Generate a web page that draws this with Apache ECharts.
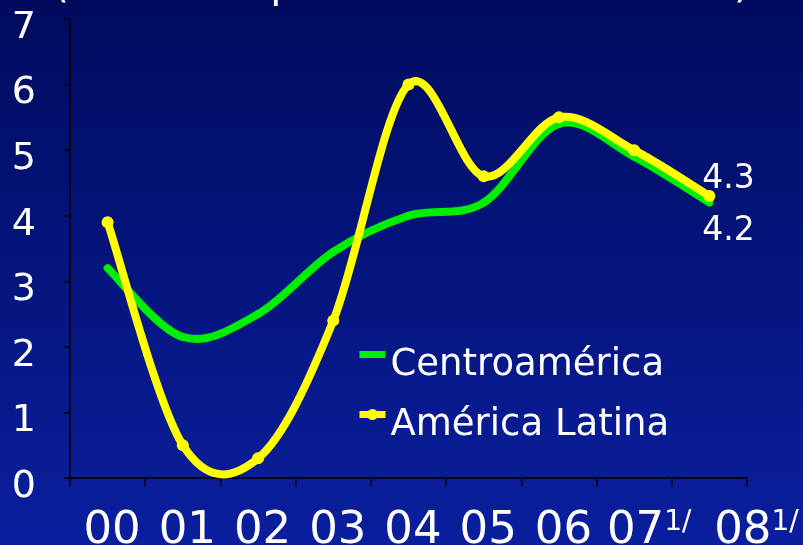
<!DOCTYPE html>
<html>
<head>
<meta charset="utf-8">
<script src="https://cdn.jsdelivr.net/npm/echarts@6/dist/echarts.min.js"></script>
<style>
  html, body { margin: 0; padding: 0; }
  #chart { width: 803px; height: 545px; }
</style>
</head>
<body>
<div id="chart"></div>
<script>
// Years (two-digit) and their footnote marks
const categories = ['00', '01', '02', '03', '04', '05', '06', '07', '08'];
const footnotes = ['', '', '', '', '', '', '', '1/', '1/'];

// GDP growth, percent
const centroamerica = [3.2, 2.15, 2.5, 3.45, 4.0, 4.2, 5.4, 4.9, 4.2];
const americaLatina = [3.9, 0.5, 0.3, 2.4, 6.0, 4.6, 5.5, 5.0, 4.3];

// Value axis ticks
const yMin = 0, yMax = 7, yStep = 1;

const FONT = 'DejaVu Sans';
const GREEN = '#00ee00';
const YELLOW = '#ffff00';

const chart = echarts.init(document.getElementById('chart'), null, { renderer: 'canvas' });

// Value label on the final point of a series
function lastLabel(values, offset) {
  return values.map((v, i) => i === values.length - 1
    ? { value: v, label: { show: true, position: 'inside', offset: offset,
        color: '#ffffff', fontFamily: FONT, fontSize: 33,
        formatter: p => p.value.toFixed(1) } }
    : v);
}

// Smoothed curve (cardinal Bezier, tension 1/6) drawn segment by segment
// from the axis coordinates of each point and its neighbours.
function curveSeries(name, values, color) {
  return {
    name: name,
    type: 'custom',
    silent: true,
    data: values.map((v, i) => [i, v]),
    encode: { x: 0, y: 1 },
    renderItem: (params, api) => {
      const i = params.dataIndex;
      const n = values.length;
      if (i >= n - 1) return null;
      const clampIdx = k => Math.max(0, Math.min(n - 1, k));
      const pt = k => api.coord([clampIdx(k), values[clampIdx(k)]]);
      const p0 = pt(i - 1), p1 = pt(i), p2 = pt(i + 1), p3 = pt(i + 2);
      return {
        type: 'bezierCurve',
        shape: {
          x1: p1[0], y1: p1[1],
          x2: p2[0], y2: p2[1],
          cpx1: p1[0] + (p2[0] - p0[0]) / 6, cpy1: p1[1] + (p2[1] - p0[1]) / 6,
          cpx2: p2[0] - (p3[0] - p1[0]) / 6, cpy2: p2[1] - (p3[1] - p1[1]) / 6
        },
        style: { stroke: color, lineWidth: 8, fill: null, lineCap: 'round' }
      };
    }
  };
}

const supPad = { '07': 30, '08': 94 };

chart.setOption({
  backgroundColor: new echarts.graphic.LinearGradient(0, 0, 0, 1, [
    { offset: 0, color: '#000b5e' },
    { offset: 1, color: '#0a1f9e' }
  ]),
  animation: false,
  textStyle: { fontFamily: FONT },
  graphic: [{
    type: 'text',
    left: 'center',
    top: -34,
    style: {
      text: '(Variación porcentual del PIB real)',
      fill: '#ffffff',
      font: '41px "DejaVu Sans"'
    }
  }],
  grid: { left: 70, right: 56, top: 19, bottom: 67, outerBoundsMode: 'none', containLabel: false },
  legend: {
    orient: 'vertical',
    left: 356,
    top: 325,
    padding: 0,
    itemWidth: 26,
    itemHeight: 14,
    itemGap: 1,
    lineStyle: { width: 7, opacity: 1 },
    formatter: name => '{t|' + name + '}',
    textStyle: {
      color: '#ffffff', fontSize: 37, fontFamily: FONT,
      rich: { t: { color: '#ffffff', fontSize: 37, fontFamily: FONT, lineHeight: 36, padding: [22, 0, 0, 0] } }
    },
    data: [
      { name: 'Centroamérica', icon: 'path://M0,0H26V7H0Z' },
      { name: 'América Latina' }
    ]
  },
  xAxis: {
    type: 'category',
    data: categories,
    boundaryGap: true,
    axisLine: { lineStyle: { color: '#000000', width: 1.5 } },
    axisTick: { show: true, length: 8, lineStyle: { color: '#000000', width: 1.5 } },
    axisLabel: {
      margin: 31,
      interval: 0,
      hideOverlap: false,
      formatter: (val, idx) => footnotes[idx]
        ? '{m' + val + '|' + val + '}{s|' + footnotes[idx] + '}'
        : '{n|' + val + '}',
      rich: {
        n: { color: '#ffffff', fontSize: 45, fontFamily: FONT, padding: [0, 0, 0, 9] },
        m07: { color: '#ffffff', fontSize: 45, fontFamily: FONT, padding: [0, 0, 0, supPad['07']] },
        m08: { color: '#ffffff', fontSize: 45, fontFamily: FONT, padding: [0, 0, 0, supPad['08']] },
        s: { color: '#ffffff', fontSize: 28, fontFamily: FONT, verticalAlign: 'top', lineHeight: 16 }
      }
    },
    splitLine: { show: false }
  },
  yAxis: {
    type: 'value',
    min: yMin,
    max: yMax,
    interval: yStep,
    axisLine: { show: true, lineStyle: { color: '#000000', width: 1.5 } },
    axisTick: { show: true, length: 6, lineStyle: { color: '#000000', width: 1.5 } },
    axisLabel: {
      color: '#ffffff', fontSize: 38, fontFamily: FONT,
      margin: 34, verticalAlign: 'top', lineHeight: 18
    },
    splitLine: { show: false }
  },
  series: [
    curveSeries('Centroamérica (curva)', centroamerica, GREEN),
    {
      name: 'Centroamérica',
      type: 'line',
      symbol: 'circle',
      symbolSize: 6,
      itemStyle: { color: GREEN },
      lineStyle: { color: GREEN, width: 8, opacity: 0 },
      data: lastLabel(centroamerica, [19, 29])
    },
    curveSeries('América Latina (curva)', americaLatina, YELLOW),
    {
      name: 'América Latina',
      type: 'line',
      symbol: 'circle',
      symbolSize: 12,
      itemStyle: { color: YELLOW },
      lineStyle: { color: YELLOW, width: 8, opacity: 0 },
      data: lastLabel(americaLatina, [19, -17])
    }
  ]
});
</script>
</body>
</html>
